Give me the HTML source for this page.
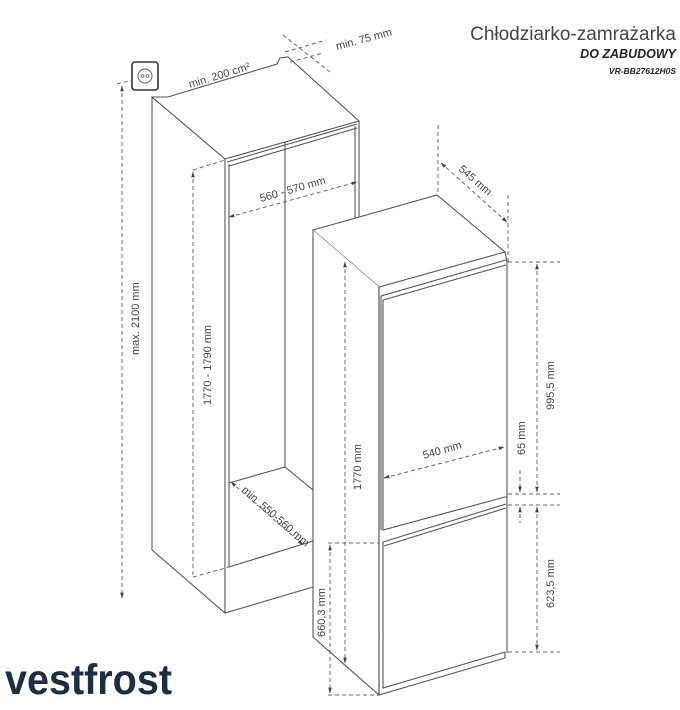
<!DOCTYPE html>
<html><head><meta charset="utf-8"><style>
html,body{margin:0;padding:0;background:#fff;}
svg{display:block;font-family:"Liberation Sans",sans-serif;}
</style></head><body>
<svg width="680" height="710" viewBox="0 0 680 710" xmlns="http://www.w3.org/2000/svg">
<defs>
<marker id="a" viewBox="0 0 10 10" refX="9" refY="5" markerWidth="6" markerHeight="6" orient="auto-start-reverse"><path d="M0,2 L10,5 L0,8 z" fill="#444"/></marker>
</defs>
<g fill="none" stroke="#555" stroke-width="1.1">
<path d="M152,97 L168,97 L277,64 L280,58 L288,57 L359,121 L225,159 Z" fill="#fff"/>
<path d="M152,97 L152,550 L225,613 L313,587"/>
<path d="M225,159 L225,613"/>
<path d="M229,164 L229,567"/>
<path d="M227,162 L357,124"/>
<path d="M229,166 L357,128"/>
<path d="M359,121 L359,220"/>
<path d="M355,126 L355,220"/>
<path d="M285,142 L285,467"/>
<path d="M229,483 L285,467 L313,490"/>
<path d="M229,567 L313,541"/>
<rect x="132" y="62" width="26" height="28" rx="3" stroke="#333" stroke-width="1.6"/>
<circle cx="145" cy="76" r="7" stroke-width="0.9"/>
<circle cx="142.5" cy="76" r="1.4" stroke-width="0.8"/>
<circle cx="147.5" cy="76" r="1.4" stroke-width="0.8"/>
<path d="M313,230 L437,195 L505,252 L379,287 Z" fill="#fff"/>
<path d="M313,230 L313,637 L379,695 L379,287" fill="#fff"/>
<path d="M379,287 L379,695"/>
<path d="M505,252 L507,262 L507,653"/>
<path d="M381,296 L506,260"/>
<path d="M383,300 L506,265"/>
<path d="M381,296 L381,530"/>
<path d="M383,300 L383,530 L505,497"/>
<path d="M505,497 L507,497"/>
<path d="M383,542 L506,504"/>
<path d="M384,546 L506,508"/>
<path d="M383,542 L383,688 L505,652"/>
<path d="M379,695 L505,658 L505,652"/>
</g>
<g fill="none" stroke="#666" stroke-width="1" stroke-dasharray="4,3">
<path d="M117,84 L133,80"/>
<path d="M122,86 L122,598" marker-start="url(#a)" marker-end="url(#a)"/>
<path d="M193,170 L225,160"/>
<path d="M193,172 L193,577" marker-start="url(#a)"/>
<path d="M193,577 L229,567"/>
<path d="M229,217 L357,182" marker-start="url(#a)" marker-end="url(#a)"/>
<path d="M285,52 L326,40"/>
<path d="M290,62 L323,53"/>
<path d="M283,35 L330,72"/>
<path d="M231,482 L303,545" marker-start="url(#a)" marker-end="url(#a)"/>
<path d="M438,125 L438,195"/>
<path d="M508,195 L508,262"/>
<path d="M441,163 L507,222" marker-start="url(#a)" marker-end="url(#a)"/>
<path d="M508,262 L560,262"/>
<path d="M537,264 L537,492" marker-start="url(#a)" marker-end="url(#a)"/>
<path d="M508,494 L560,494"/>
<path d="M508,505 L560,505"/>
<path d="M520,470 L520,492" marker-end="url(#a)"/>
<path d="M520,507 L520,523" marker-start="url(#a)"/>
<path d="M537,507 L537,650" marker-start="url(#a)" marker-end="url(#a)"/>
<path d="M508,652 L560,652"/>
<path d="M384,478 L504,447" marker-start="url(#a)" marker-end="url(#a)"/>
<path d="M345,262 L345,663" marker-start="url(#a)" marker-end="url(#a)"/>
<path d="M328,543 L379,543"/>
<path d="M328,695 L379,695"/>
<path d="M330,545 L330,693" marker-start="url(#a)" marker-end="url(#a)"/>
</g>
<g fill="#444" font-size="11">
<text transform="translate(190,88) rotate(-17)">min. 200 cm²</text>
<text transform="translate(337,50) rotate(-15)">min. 75 mm</text>
<text transform="translate(261,202) rotate(-16)">560 - 570 mm</text>
<text transform="translate(139,355) rotate(-90)">max. 2100 mm</text>
<text transform="translate(211,405) rotate(-90)">1770 - 1790 mm</text>
<text transform="translate(241,491) rotate(41)">min. 550-560 mm</text>
<text transform="translate(458,170) rotate(41)">545 mm</text>
<text transform="translate(424,459) rotate(-16)">540 mm</text>
<text transform="translate(361,490) rotate(-90)">1770 mm</text>
<text transform="translate(554,410) rotate(-90)">995,5 mm</text>
<text transform="translate(525,455) rotate(-90)">65 mm</text>
<text transform="translate(554,608) rotate(-90)">623,5 mm</text>
<text transform="translate(325,637) rotate(-90)">660,3 mm</text>
</g>
<text x="676" y="40" text-anchor="end" font-size="19" fill="#444" font-weight="300">Chłodziarko-zamrażarka</text>
<text x="676" y="58" text-anchor="end" font-size="12.5" fill="#222" font-weight="bold" font-style="italic">DO ZABUDOWY</text>
<text x="676" y="74" text-anchor="end" font-size="8.5" fill="#222" font-weight="bold" font-style="italic">VR-BB27612H0S</text>
<text x="5" y="694" font-size="43" fill="#1d2e42" font-weight="bold" textLength="167" lengthAdjust="spacingAndGlyphs">vestfrost</text>
</svg>
</body></html>
